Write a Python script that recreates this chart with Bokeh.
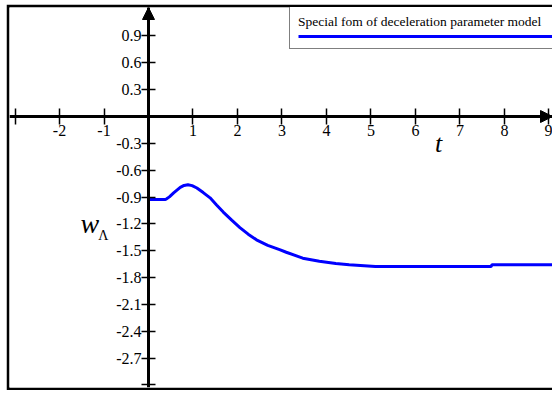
from bokeh.plotting import figure
from bokeh.models import Range1d, FixedTicker, Arrow, NormalHead, Label, Legend, LegendItem
from bokeh.embed import file_html
from bokeh.resources import INLINE

# ---- data ----
t_vals = [0.0, 0.38, 0.40, 0.47, 0.565, 0.714, 0.80, 0.886, 0.98, 1.087, 1.23, 1.384,
          1.53, 1.68, 1.87, 2.054, 2.24, 2.426, 2.68, 2.946, 3.096, 3.467, 3.84,
          4.21, 4.51, 5.1, 7.7, 7.72, 9.3]
w_vals = [-0.928, -0.928, -0.922, -0.898, -0.854, -0.792, -0.770, -0.762, -0.772, -0.799,
          -0.850, -0.909, -0.988, -1.068, -1.158, -1.241, -1.315, -1.378, -1.440, -1.488,
          -1.517, -1.583, -1.617, -1.643, -1.657, -1.676, -1.676, -1.657, -1.657]

x_ticks = [-2, -1, 1, 2, 3, 4, 5, 6, 7, 8, 9]
x_tick_labels = ["-2", "-1", "1", "2", "3", "4", "5", "6", "7", "8", "9"]
x_minor = [-3]
y_ticks = [-2.7, -2.4, -2.1, -1.8, -1.5, -1.2, -0.9, -0.6, -0.3, 0.3, 0.6, 0.9]
y_tick_labels = ["-2.7", "-2.4", "-2.1", "-1.8", "-1.5", "-1.2", "-0.9", "-0.6", "-0.3",
                 "0.3", "0.6", "0.9"]
y_minor = [-3.0]

legend_title = "Special fom of deceleration parameter model"

X_MIN, X_MAX = -3.124, 9.08
Y_MIN, Y_MAX = -3.028, 1.218

FONT = "Liberation Serif"

p = figure(width=546, height=386, margin=(4, 0, 0, 6),
           x_range=Range1d(X_MIN, X_MAX), y_range=Range1d(Y_MIN, Y_MAX),
           output_backend="svg", toolbar_location=None,
           min_border_left=3, min_border_right=0, min_border_top=3, min_border_bottom=3,
           border_fill_color="black", background_fill_color="white", outline_line_color=None)

p.xgrid.visible = False
p.ygrid.visible = False

for ax, ticks, labels, minor, tick_len in (
        (p.xaxis[0], x_ticks, x_tick_labels, x_minor, 8),
        (p.yaxis[0], y_ticks, y_tick_labels, y_minor, 7)):
    ax.fixed_location = 0
    ax.ticker = FixedTicker(ticks=ticks, minor_ticks=minor)
    ax.major_label_overrides = {v: s for v, s in zip(ticks, labels)}
    ax.axis_line_width = 3
    ax.axis_line_color = "black"
    ax.major_tick_line_width = 1.5
    ax.minor_tick_line_width = 1.5
    ax.major_tick_line_color = "black"
    ax.minor_tick_line_color = "black"
    ax.major_tick_in = tick_len
    ax.major_tick_out = tick_len
    ax.minor_tick_in = tick_len
    ax.minor_tick_out = tick_len
    ax.major_label_text_font = FONT
    ax.major_label_text_font_size = "16px"
    ax.major_label_text_color = "black"
    ax.major_label_standoff = 0

r = p.line(t_vals, w_vals, line_color="#0000ff", line_width=3)

# axis arrows
p.add_layout(Arrow(end=NormalHead(size=12, fill_color="black", line_color="black"),
                   x_start=0, y_start=0, x_end=X_MAX, y_end=0,
                   line_width=3, line_color="black"))
p.add_layout(Arrow(end=NormalHead(size=12, fill_color="black", line_color="black"),
                   x_start=0, y_start=0, x_end=0, y_end=Y_MAX,
                   line_width=3, line_color="black"))

# axis titles
p.add_layout(Label(x=6.52, y=-0.30, text="t", text_font=FONT, text_font_style="italic",
                   text_font_size="26px", text_align="center", text_baseline="middle",
                   text_color="black"))
p.add_layout(Label(x=-1.317, y=-1.20, text="w", text_font=FONT, text_font_style="italic",
                   text_font_size="28px", text_align="center", text_baseline="middle",
                   text_color="black"))
p.add_layout(Label(x=-1.016, y=-1.326, text="Λ", text_font=FONT,
                   text_font_size="14px", text_align="center", text_baseline="middle",
                   text_color="black"))

legend = Legend(items=[LegendItem(label=" ", renderers=[r])],
                title=legend_title, title_text_font=FONT, title_text_font_size="13.5px",
                title_text_font_style="normal", title_text_color="black", title_standoff=2,
                location=(280, 338), padding=8, margin=0, spacing=0,
                glyph_width=256, glyph_height=8, label_standoff=0,
                label_width=0, label_height=4, label_text_font_size="4px",
                border_line_color="black", border_line_width=1,
                background_fill_color="white", background_fill_alpha=1.0)
p.add_layout(legend)

open("out.html", "w").write(file_html(p, INLINE))
